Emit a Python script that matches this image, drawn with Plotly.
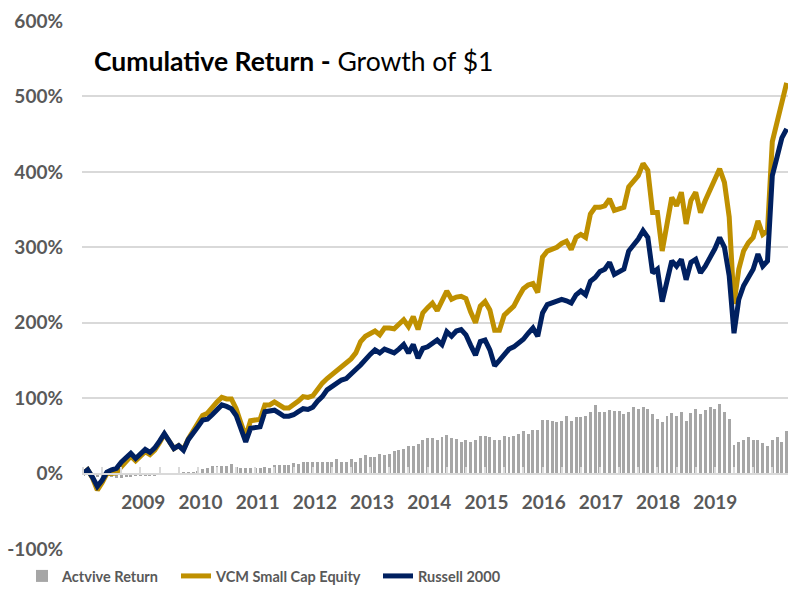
import plotly.graph_objects as go

# ---------------- data ----------------
months = list(range(148))  # monthly observations, first point = start (0%)

vcm_small_cap = [
    0, 5, -6, -22, -12, 0, 0, 1, 9, 17, 23, 17, 23, 29, 25, 31, 41, 52, 43, 33,
    37, 32, 46, 57, 65, 77, 80, 88, 95, 101, 99, 99, 86, 67, 49, 70, 71, 72, 91, 91,
    95, 91, 87, 87, 91, 96, 102, 101, 103, 112, 120, 126, 131, 136, 140, 146, 152, 160, 175, 182,
    186, 189, 184, 193, 193, 192, 198, 204, 195, 208, 191, 213, 220, 226, 216, 228, 242, 231, 234, 235,
    232, 214, 200, 222, 228, 217, 190, 190, 210, 216, 222, 234, 245, 250, 252, 240, 287, 295, 298, 300,
    305, 308, 297, 313, 317, 313, 344, 353, 353, 355, 364, 349, 351, 353, 380, 388, 395, 411, 402, 346,
    346, 295, 335, 366, 355, 373, 331, 362, 373, 346, 362, 375, 388, 404, 386, 340, 225, 271, 295, 306,
    313, 335, 317, 322, 440, 466, 498, 518,
]

russell_2000 = [
    0, 5, -5, -17, -9, 2, 5, 7, 15, 22, 27, 20, 26, 32, 28, 34, 43, 53, 43, 33,
    37, 31, 45, 55, 62, 71, 72, 78, 85, 91, 89, 86, 77, 60, 42, 60, 61, 62, 82, 83,
    84, 80, 76, 76, 78, 82, 86, 85, 88, 96, 102, 111, 115, 120, 124, 126, 133, 138, 144, 152,
    158, 164, 160, 165, 163, 160, 165, 171, 160, 171, 153, 166, 168, 172, 177, 171, 188, 182, 189, 191,
    184, 170, 157, 175, 177, 164, 143, 150, 158, 165, 168, 173, 178, 186, 193, 182, 213, 224, 226, 228,
    231, 229, 226, 237, 242, 237, 255, 260, 268, 271, 280, 264, 268, 271, 295, 302, 311, 322, 313, 266,
    271, 228, 258, 282, 275, 284, 257, 280, 284, 266, 275, 285, 298, 313, 300, 262, 186, 231, 249, 260,
    271, 291, 275, 282, 395, 420, 445, 457,
]

active_return = [
    0, 0, -1, -4, -4, -4, -5, -6, -6, -5, -4, -3, -3, -3, -3, -3, -2, -1, 0, 0,
    0, 1, 1, 2, 3, 6, 8, 10, 10, 10, 10, 13, 9, 7, 7, 8, 8, 8, 9, 8,
    11, 11, 11, 11, 14, 13, 16, 16, 16, 16, 16, 16, 16, 19, 16, 16, 19, 16, 21, 24,
    22, 22, 26, 24, 26, 30, 31, 32, 37, 37, 39, 44, 47, 47, 44, 49, 51, 47, 46, 42,
    44, 42, 44, 50, 50, 48, 45, 45, 50, 49, 50, 52, 56, 53, 58, 58, 71, 71, 70, 69,
    70, 76, 70, 75, 75, 76, 82, 91, 82, 82, 84, 83, 83, 79, 82, 88, 86, 88, 86, 79,
    73, 68, 76, 80, 76, 81, 70, 80, 86, 79, 84, 88, 86, 92, 81, 72, 38, 42, 44, 48,
    44, 44, 41, 37, 44, 48, 42, 56,
]

year_labels = ["2009", "2010", "2011", "2012", "2013", "2014",
               "2015", "2016", "2017", "2018", "2019"]
year_label_pos = [12.6, 24.55, 36.5, 48.45, 60.4, 72.35, 84.3, 96.25, 108.2, 120.15, 132.1]
minor_tick_pos = list(range(0, 148, 4))
y_tick_vals = [-100, 0, 100, 200, 300, 400, 500, 600]
y_tick_text = ["-100%", "0%", "100%", "200%", "300%", "400%", "500%", "600%"]

FONT = "Lato, 'Open Sans', sans-serif"
GRID = "#D9D9D9"
LABEL = "#595959"

fig = go.Figure()
fig.add_bar(x=months, y=active_return, name="Actvive Return",
            marker=dict(color="#A6A6A6", line=dict(width=0)), width=0.62,
            legend="legend")
fig.add_scatter(x=months, y=vcm_small_cap, mode="lines", name="VCM Small Cap Equity",
                line=dict(color="#BF9000", width=5), legend="legend2")
fig.add_scatter(x=months, y=russell_2000, mode="lines", name="Russell 2000",
                line=dict(color="#002060", width=5), legend="legend3")

legend_y = (589 - 560) / 589
legend_common = dict(orientation="h", xref="container", yref="container",
                     xanchor="left", yanchor="top", bgcolor="rgba(0,0,0,0)",
                     font=dict(family=FONT, size=14.5, color=LABEL, weight="bold"),
                     itemclick=False, itemdoubleclick=False)

fig.update_layout(
    width=788, height=589,
    margin=dict(l=82, r=0, t=21, b=40, autoexpand=False),
    paper_bgcolor="white", plot_bgcolor="white",
    font=dict(family=FONT, color=LABEL),
    bargap=0,
    showlegend=True,
    legend=dict(x=22 / 788, y=legend_y, **legend_common),
    legend2=dict(x=176 / 788, y=legend_y, **legend_common),
    legend3=dict(x=378 / 788, y=legend_y, **legend_common),
    xaxis=dict(
        range=[-0.2, 147.28], anchor="free", position=1 / 7,
        showgrid=False, zeroline=False,
        showline=True, linecolor=GRID, linewidth=2,
        tickmode="array", tickvals=year_label_pos, ticktext=year_labels,
        ticks="", ticklabelstandoff=12,
        tickfont=dict(family=FONT, size=19, color=LABEL, weight="bold"),
        minor=dict(tickmode="array", tickvals=minor_tick_pos, ticks="inside",
                   ticklen=6, tickwidth=2, tickcolor=GRID, showgrid=False),
        layer="above traces",
    ),
    yaxis=dict(
        range=[-100, 600], tickmode="array", tickvals=y_tick_vals, ticktext=y_tick_text,
        showgrid=True, gridcolor=GRID, gridwidth=2, zeroline=False, showline=False,
        ticks="", ticklabelstandoff=18,
        tickfont=dict(family=FONT, size=19, color=LABEL, weight="bold"),
    ),
    annotations=[dict(
        xref="paper", yref="paper", x=10 / 706, y=(549 - 61) / 528,
        xanchor="left", yanchor="middle", showarrow=False,
        text="<b>Cumulative Return -</b> Growth of $1",
        font=dict(family=FONT, size=26.5, color="black"),
    )],
)

fig.write_html("out.html", config={"displayModeBar": False},
               post_script="document.body.style.margin='0';")
